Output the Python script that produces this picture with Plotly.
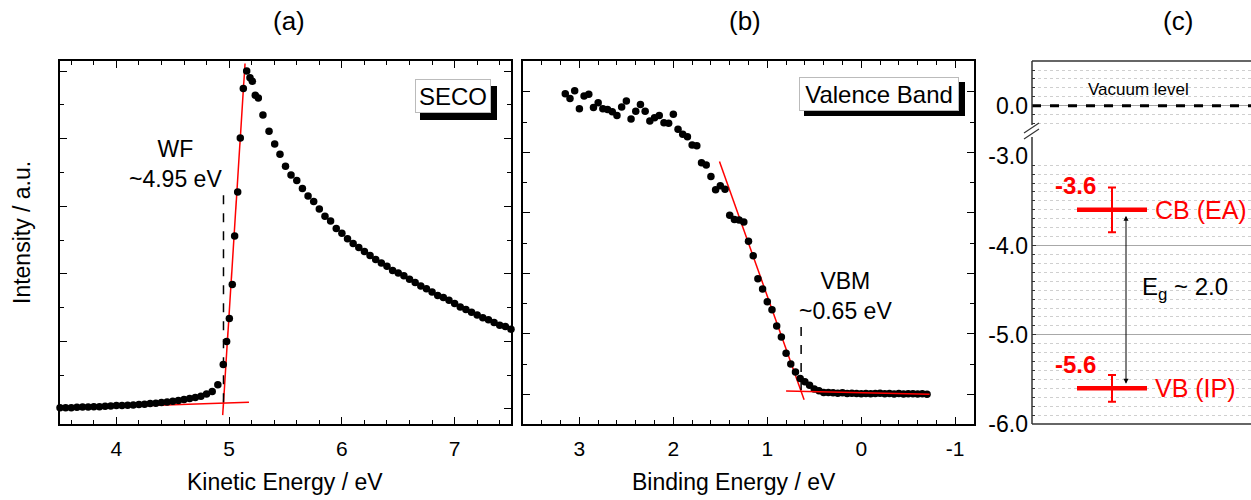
import plotly.graph_objects as go

W, H = 1251, 500


def px(x):
    return x / W


def py(y):
    return 1 - y / H


FONT = "Liberation Sans, Arial, sans-serif"

# ---------------- Panel (a): SECO ----------------
seco_ke = [3.50, 3.55, 3.60, 3.65, 3.70, 3.75, 3.80, 3.85, 3.90, 3.95,
           4.00, 4.05, 4.10, 4.15, 4.20, 4.25, 4.30, 4.35, 4.40, 4.45,
           4.50, 4.55, 4.60, 4.65, 4.70, 4.75, 4.80, 4.85, 4.90,
           4.948, 4.978, 5.002, 5.028, 5.049, 5.076, 5.099, 5.126, 5.156,
           5.185, 5.206, 5.232, 5.259, 5.30, 5.354, 5.404, 5.451, 5.50,
           5.549, 5.60, 5.65, 5.70, 5.75, 5.80, 5.85, 5.90, 5.95, 6.00,
           6.05, 6.10, 6.15, 6.20, 6.25, 6.30, 6.35, 6.40, 6.45, 6.50,
           6.55, 6.60, 6.65, 6.70, 6.75, 6.80, 6.85, 6.90, 6.95, 7.00,
           7.05, 7.10, 7.15, 7.20, 7.25, 7.30, 7.35, 7.40, 7.45, 7.50]
seco_int = [0.02, 0.02, 0.02, 0.025, 0.03, 0.03, 0.035, 0.035, 0.04, 0.045,
            0.05, 0.05, 0.055, 0.06, 0.065, 0.07, 0.08, 0.085, 0.095, 0.105,
            0.115, 0.125, 0.14, 0.155, 0.17, 0.19, 0.22, 0.26, 0.36,
            0.66, 1.00, 1.34, 1.84, 2.56, 3.21, 4.01, 4.74, 5.00,
            4.90, 4.85, 4.64, 4.60, 4.35, 4.11, 3.92, 3.77, 3.59,
            3.46, 3.38, 3.26, 3.15, 3.07, 2.96, 2.85, 2.78, 2.67, 2.60,
            2.52, 2.45, 2.39, 2.33, 2.27, 2.21, 2.16, 2.11, 2.05, 2.01,
            1.97, 1.92, 1.87, 1.82, 1.78, 1.73, 1.68, 1.65, 1.61, 1.56,
            1.51, 1.47, 1.43, 1.39, 1.35, 1.32, 1.28, 1.24, 1.22, 1.18]

seco_edge_fit_x = [4.943, 5.141]
seco_edge_fit_y = [-0.09, 5.11]
seco_base_fit_x = [3.35, 5.176]
seco_base_fit_y = [0.0, 0.10]
wf_value = 4.95
wf_marker_y = [0.10, 3.18]
ke_ticks = [4, 5, 6, 7]

# ---------------- Panel (b): Valence band ----------------
vb_be = [3.15, 3.10, 3.05, 3.00, 2.95, 2.90, 2.85, 2.80, 2.75, 2.70,
         2.65, 2.60, 2.55, 2.50, 2.45, 2.40, 2.35, 2.30, 2.25, 2.20,
         2.15, 2.10, 2.05, 2.00, 1.95, 1.90, 1.85, 1.80, 1.75, 1.70,
         1.65, 1.60, 1.55, 1.50, 1.45, 1.40, 1.35, 1.30, 1.25, 1.20,
         1.15, 1.10, 1.05, 1.00, 0.95, 0.90, 0.85, 0.80, 0.75, 0.70,
         0.65, 0.60, 0.55, 0.50, 0.45, 0.40,
         0.35, 0.30, 0.25, 0.20, 0.15, 0.10, 0.05, 0.00, -0.05, -0.10,
         -0.15, -0.20, -0.25, -0.30, -0.35, -0.40, -0.45, -0.50, -0.55,
         -0.60, -0.65, -0.70]
vb_int = [4.97, 4.89, 5.02, 4.72, 4.93, 4.96, 4.74, 4.82, 4.72, 4.71,
          4.67, 4.61, 4.75, 4.85, 4.55, 4.68, 4.79, 4.68, 4.52, 4.57,
          4.61, 4.49, 4.48, 4.63, 4.38, 4.30, 4.26, 4.12, 4.11, 3.83,
          3.79, 3.60, 3.38, 3.45, 3.39, 2.96, 2.89, 2.88, 2.85, 2.53,
          2.29, 1.91, 1.74, 1.53, 1.40, 1.13, 0.95, 0.68, 0.50, 0.37,
          0.26, 0.21, 0.15, 0.09, 0.06, 0.03,
          0.03, 0.025, 0.02, 0.025, 0.015, 0.02, 0.015, 0.01, 0.015, 0.01,
          0.015, 0.02, 0.01, 0.015, 0.005, 0.015, 0.005, 0.01, 0.01,
          0.005, 0.01, 0.0]

vb_edge_fit_x = [1.509, 0.608]
vb_edge_fit_y = [3.85, -0.09]
vb_base_fit_x = [0.80, -0.727]
vb_base_fit_y = [0.055, 0.0]
vbm_value = 0.64
vbm_marker_y = [0.07, 1.12]
be_ticks = [3, 2, 1, 0, -1]
be_ticktext = ["3", "2", "1", "0", "-1"]

# ---------------- Panel (c): energy levels ----------------
level_names = ["CB (EA)", "VB (IP)"]
level_energy = [-3.6, -5.6]
level_error = [0.25, 0.15]
level_pos = [0, 0]
vacuum_level = 0.0
gap_value = 2.0
c_lower_ticks = [-6, -5, -4, -3]
c_upper_ticks = [0]

fig = go.Figure()

# (a)
fig.add_trace(go.Scatter(x=seco_base_fit_x, y=seco_base_fit_y, mode="lines",
                         line=dict(color="red", width=1.5), xaxis="x", yaxis="y"))
fig.add_trace(go.Scatter(x=seco_edge_fit_x, y=seco_edge_fit_y, mode="lines",
                         line=dict(color="red", width=1.5), xaxis="x", yaxis="y"))
fig.add_trace(go.Scatter(x=[wf_value, wf_value], y=wf_marker_y, mode="lines",
                         line=dict(color="black", width=1.5, dash="dash"),
                         xaxis="x", yaxis="y"))
fig.add_trace(go.Scatter(x=seco_ke, y=seco_int, mode="markers",
                         marker=dict(color="black", size=7.5),
                         cliponaxis=False, xaxis="x", yaxis="y"))

# (b)
fig.add_trace(go.Scatter(x=vb_edge_fit_x, y=vb_edge_fit_y, mode="lines",
                         line=dict(color="red", width=1.5), xaxis="x2", yaxis="y2"))
fig.add_trace(go.Scatter(x=[vbm_value, vbm_value], y=vbm_marker_y, mode="lines",
                         line=dict(color="black", width=1.5, dash="dash"),
                         xaxis="x2", yaxis="y2"))
fig.add_trace(go.Scatter(x=vb_be, y=vb_int, mode="markers",
                         marker=dict(color="black", size=7.5),
                         cliponaxis=False, xaxis="x2", yaxis="y2"))
fig.add_trace(go.Scatter(x=vb_base_fit_x, y=vb_base_fit_y, mode="lines",
                         line=dict(color="red", width=1.5), xaxis="x2", yaxis="y2"))

# (c)
fig.add_trace(go.Scatter(x=level_pos, y=level_energy, mode="markers",
                         marker=dict(symbol="line-ew", size=50, color="red",
                                     line=dict(color="red", width=4.5)),
                         error_y=dict(type="data", array=level_error, color="red",
                                      thickness=2, width=4),
                         xaxis="x3", yaxis="y3"))

tickfont = dict(family=FONT, size=21, color="black")

common_x = dict(ticks="inside", ticklen=7, tickwidth=1.2, tickcolor="black",
                showline=True, linecolor="black", linewidth=1.5, mirror="ticks",
                showgrid=False, zeroline=False, tickfont=tickfont,
                ticklabelstandoff=5, automargin=False,
                minor=dict(dtick=0.2, ticks="inside", ticklen=4, tickcolor="black",
                           tickwidth=1.2))
common_y = dict(ticks="inside", ticklen=7, tickwidth=1.2, tickcolor="black",
                showline=True, linecolor="black", linewidth=1.5, mirror="ticks",
                showgrid=False, zeroline=False, showticklabels=False,
                dtick=1, tick0=0, automargin=False,
                minor=dict(dtick=0.5, ticks="inside", ticklen=4, tickcolor="black",
                           tickwidth=1.2))

c_y_common = dict(ticks="inside", ticklen=4, tickwidth=1, tickcolor="#333",
                  showline=False, zeroline=False, showgrid=True,
                  gridcolor="#a8a8a8", gridwidth=1, automargin=False,
                  tickfont=dict(family=FONT, size=23, color="black"),
                  ticklabelstandoff=3,
                  minor=dict(dtick=0.1, tick0=0, ticks="inside", ticklen=3,
                             tickcolor="#333", showgrid=True, gridcolor="#cfcfcf",
                             griddash="dot", gridwidth=1))

fig.update_layout(
    template="none",
    width=W, height=H, autosize=False,
    margin=dict(l=0, r=0, t=0, b=0, pad=0),
    paper_bgcolor="white", plot_bgcolor="white",
    showlegend=False,
    font=dict(family=FONT, color="black"),
    xaxis=dict(domain=[px(60), px(511)], range=[3.5, 7.5], tickvals=ke_ticks,
               anchor="y", **common_x),
    yaxis=dict(domain=[py(424), py(61)], range=[-0.222, 5.148], anchor="x",
               **common_y),
    xaxis2=dict(domain=[px(523), px(974)], range=[3.6, -1.2], tickvals=be_ticks,
                ticktext=be_ticktext, anchor="y2", **common_x),
    yaxis2=dict(domain=[py(424), py(61)], range=[-0.49, 5.51], anchor="x2",
                **common_y),
    xaxis3=dict(domain=[px(1032), 1.0], range=[-0.8, 1.39], visible=False,
                anchor="y3", automargin=False),
    yaxis3=dict(domain=[py(424), py(156.3)], range=[-6, -3], anchor="x3",
                tickvals=c_lower_ticks,
                ticktext=["%.1f" % v for v in c_lower_ticks], **c_y_common),
    xaxis4=dict(domain=[px(1032), 1.0], range=[-0.8, 1.39], visible=False,
                anchor="y4", automargin=False),
    yaxis4=dict(domain=[py(131), py(61)], range=[-0.284, 0.501], anchor="x4",
                tickvals=c_upper_ticks,
                ticktext=["%.1f" % v for v in c_upper_ticks], **c_y_common),
)

shapes = []
shapes.append(dict(type="line", xref="x4 domain", x0=0, x1=1, yref="y4",
                   y0=vacuum_level, y1=vacuum_level,
                   line=dict(color="black", width=3, dash="dash"), layer="above"))
frame = dict(color="#333", width=1.5)
shapes.append(dict(type="line", xref="paper", yref="paper", x0=px(1032), x1=1.0,
                   y0=py(61), y1=py(61), line=frame))
shapes.append(dict(type="line", xref="paper", yref="paper", x0=px(1032), x1=1.0,
                   y0=py(424), y1=py(424), line=frame))
shapes.append(dict(type="line", xref="paper", yref="paper", x0=px(1032), x1=px(1032),
                   y0=py(61), y1=py(125), line=frame))
shapes.append(dict(type="line", xref="paper", yref="paper", x0=px(1032), x1=px(1032),
                   y0=py(137), y1=py(424), line=frame))
shapes.append(dict(type="line", xref="paper", yref="paper", x0=px(1024), x1=px(1039),
                   y0=py(133), y1=py(123), line=dict(color="#333", width=1.2)))
shapes.append(dict(type="line", xref="paper", yref="paper", x0=px(1024), x1=px(1039),
                   y0=py(139), y1=py(129), line=dict(color="#333", width=1.2)))
shapes.append(dict(type="rect", xref="paper", yref="paper", x0=px(420), x1=px(497),
                   y0=py(120), y1=py(86), fillcolor="black", line=dict(width=0),
                   layer="above"))
shapes.append(dict(type="rect", xref="paper", yref="paper", x0=px(804), x1=px(965),
                   y0=py(116), y1=py(82), fillcolor="black", line=dict(width=0),
                   layer="above"))
fig.update_layout(shapes=shapes)

ann = []


def paper_text(text, x, y, size, **kw):
    d = dict(text=text, xref="paper", yref="paper", x=px(x), y=py(y),
             xanchor="center", yanchor="middle", showarrow=False,
             font=dict(family=FONT, size=size, color="black"))
    d.update(kw)
    return d


ann.append(paper_text("(a)", 289, 21, 26))
ann.append(paper_text("(b)", 745, 21, 26))
ann.append(paper_text("(c)", 1178, 21, 26))
ann.append(paper_text("Kinetic Energy / eV", 285, 482, 23))
ann.append(paper_text("Binding Energy / eV", 734, 482, 23))
ann.append(paper_text("Intensity / a.u.", 22, 233, 23, textangle=-90))
ann.append(paper_text("SECO", 453, 96, 24, bgcolor="white", bordercolor="#bbb",
                      borderwidth=1, borderpad=1, width=72, height=30))
ann.append(paper_text("Valence Band", 879, 94, 24, bgcolor="white",
                      bordercolor="#bbb", borderwidth=1, borderpad=1,
                      width=156, height=30))

ann.append(dict(text="WF<br>~%.2f eV" % wf_value, xref="x", yref="y", x=4.52, y=3.62,
                showarrow=False, font=dict(family=FONT, size=23, color="black")))
ann.append(dict(text="VBM<br>~%.2f eV" % 0.65, xref="x2", yref="y2", x=0.17, y=1.62,
                showarrow=False, font=dict(family=FONT, size=23, color="black")))

ann.append(dict(text="Vacuum level", xref="x4", yref="y4", x=0.26, y=0.187,
                showarrow=False, font=dict(family=FONT, size=17, color="black")))
for name, e in zip(level_names, level_energy):
    ann.append(dict(text=name, xref="x3", yref="y3", x=0.41, y=e, xanchor="left",
                    showarrow=False, font=dict(family=FONT, size=25, color="red")))
    ann.append(dict(text="<b>%.1f</b>" % e, xref="x3", yref="y3", x=-0.37, y=e + 0.27,
                    showarrow=False, font=dict(family=FONT, size=24, color="red")))
ann.append(dict(text="", xref="x3", yref="y3", x=0.14, y=level_energy[1] + 0.05,
                axref="x3", ayref="y3", ax=0.14, ay=level_energy[0] - 0.05,
                showarrow=True, arrowhead=2, arrowside="end+start", arrowsize=1,
                arrowwidth=1, arrowcolor="black"))
ann.append(dict(text="E<sub>g</sub> ~ %.1f" % gap_value, xref="x3", yref="y3",
                x=0.28, y=-4.48, xanchor="left", showarrow=False,
                font=dict(family=FONT, size=24, color="black")))
fig.update_layout(annotations=ann)

fig.write_html("out.html")
